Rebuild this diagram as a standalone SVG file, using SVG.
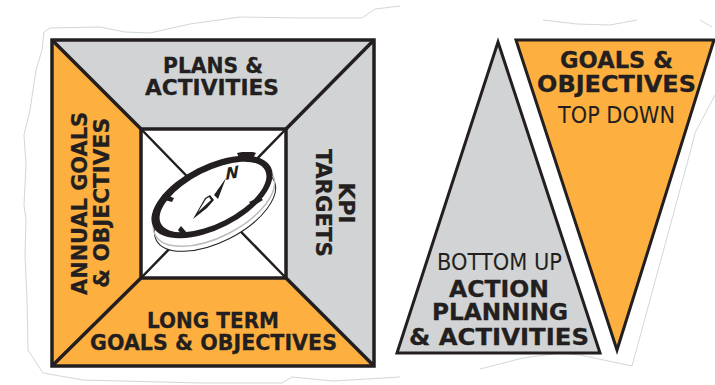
<svg xmlns="http://www.w3.org/2000/svg" width="715" height="385" viewBox="0 0 715 385">
<style>
.b{font-family:"DejaVu Sans",sans-serif;font-weight:700;font-size:21.500px;fill:#231f20;stroke:#231f20;stroke-width:.3}
.t{font-size:23px}
.r{font-family:"DejaVu Sans",sans-serif;font-size:23px;fill:#231f20}
.o{fill:#fdb03f}.g{fill:#d1d3d4}
.l{fill:none;stroke:#231f20;stroke-width:3.5}
.e{fill:none;stroke:#d4d6d7;stroke-width:1}
</style>
<rect width="715" height="385" fill="#fff"/>
<g id="paper-edge">
<path class="e" d="M400 6L375 9L362 18L300 18L240 17L190 24L150 33L125 32L100 27L50 28L44 32L42 50L36 70L30 110L24 135L26 165L24 205L26 220L25 255L27 300L28 350L43 373L83 380L200 383L282 383L292 377L333 381L400 377"/>
<path class="e" d="M480 369L523 358L560 353L580 355L632 366L690 153L695 133L715 95"/>
<path class="e" d="M543 20L577 24L610 25L637 20M700 20L712 27"/>
</g>
<g id="compass-square">
<g id="plans-activities"><path class="g" d="M52 40H374L286 129H141Z"/>
<text class="b" x="213" y="73" text-anchor="middle" textLength="100" lengthAdjust="spacingAndGlyphs">PLANS &amp;</text>
<text class="b" x="212" y="95" text-anchor="middle" textLength="134" lengthAdjust="spacingAndGlyphs">ACTIVITIES</text></g>
<g id="kpi-targets"><path class="g" d="M374 40V366L286 278V129Z"/>
<text class="b" transform="translate(339 203) rotate(90)" text-anchor="middle" textLength="41" lengthAdjust="spacingAndGlyphs">KPI</text>
<text class="b" transform="translate(316 203) rotate(90)" text-anchor="middle" textLength="108" lengthAdjust="spacingAndGlyphs">TARGETS</text></g>
<g id="long-term"><path class="o" d="M52 366H374L286 278H141Z"/>
<text class="b" x="213" y="328" text-anchor="middle" textLength="132" lengthAdjust="spacingAndGlyphs">LONG TERM</text>
<text class="b" x="213.500" y="350" text-anchor="middle" textLength="247" lengthAdjust="spacingAndGlyphs">GOALS &amp; OBJECTIVES</text></g>
<g id="annual-goals"><path class="o" d="M52 40V366L141 278V129Z"/>
<text class="b" transform="translate(87 203.500) rotate(-90)" text-anchor="middle" textLength="183" lengthAdjust="spacingAndGlyphs">ANNUAL GOALS</text>
<text class="b" transform="translate(109 203) rotate(-90)" text-anchor="middle" textLength="170" lengthAdjust="spacingAndGlyphs">&amp; OBJECTIVES</text></g>
<g id="compass">
<rect x="141" y="129" width="145" height="149" fill="#fff"/>
<path fill="none" stroke="#231f20" stroke-width="2.500" d="M141 129L286 278M286 129L141 278"/>
<ellipse cx="215" cy="210" rx="66" ry="32" transform="rotate(-27 215 210)" fill="#fff" stroke="#231f20" stroke-width="1"/>
<ellipse cx="214" cy="205" rx="66" ry="32" transform="rotate(-27 214 205)" fill="none" stroke="#bbb" stroke-width="1.500"/>
<path fill="#231f20" d="M237 153L242 152L253 152L256 153L252 160L240 160Z"/>
<ellipse cx="212" cy="197" rx="66" ry="32" transform="rotate(-27 212 197)" fill="#231f20"/>
<ellipse cx="213" cy="197" rx="58.500" ry="26" transform="rotate(-27 213 197)" fill="#fff"/>
<path fill="#231f20" d="M163 194L174 198L172 202L161 199ZM181 226L188 234L184 238L178 230ZM249 202L260 197L263 200L253 206Z"/>
<path fill="#231f20" d="M193 219L205 198L210 195L214 200L207 208ZM214 195L226 178L218 199Z"/>
<path fill="#fff" d="M198 212L206 199L209 197L211 200Z"/>
<text font-family="DejaVu Sans,sans-serif" font-weight="700" font-size="16" fill="#231f20" text-anchor="middle" y="5.500" transform="translate(232 173) rotate(-12) skewX(-22)">N</text>
</g>
<g id="frames" class="l">
<path d="M52 40L141 129M374 40L286 129M52 366L141 278M374 366L286 278"/>
<rect x="141" y="129" width="145" height="149"/>
<rect x="52" y="40" width="322" height="326"/>
</g>
</g>
<g id="bottom-up"><path class="g" stroke="#231f20" stroke-width="3" stroke-linejoin="miter" d="M498 42L600 353H397Z"/>
<text class="r" x="499.500" y="270" text-anchor="middle" textLength="125" lengthAdjust="spacingAndGlyphs">BOTTOM UP</text>
<text class="b t" x="499" y="297" text-anchor="middle" textLength="100" lengthAdjust="spacingAndGlyphs">ACTION</text>
<text class="b t" x="500" y="320" text-anchor="middle" textLength="136" lengthAdjust="spacingAndGlyphs">PLANNING</text>
<text class="b t" x="499" y="345" text-anchor="middle" textLength="180" lengthAdjust="spacingAndGlyphs">&amp; ACTIVITIES</text></g>
<g id="top-down"><path class="o" stroke="#231f20" stroke-width="3" d="M516 40H714L617 350Z"/>
<text class="b t" x="616.500" y="68" text-anchor="middle" textLength="113" lengthAdjust="spacingAndGlyphs">GOALS &amp;</text>
<text class="b t" x="616.500" y="92" text-anchor="middle" textLength="159" lengthAdjust="spacingAndGlyphs">OBJECTIVES</text>
<text class="r" x="616.500" y="123" text-anchor="middle" textLength="117" lengthAdjust="spacingAndGlyphs">TOP DOWN</text></g>
</svg>
